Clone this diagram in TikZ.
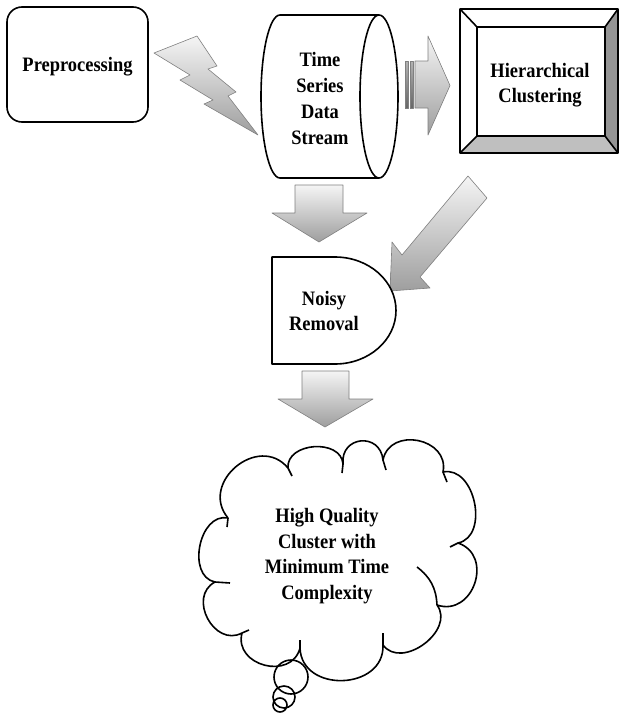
\documentclass[tikz,border=0pt]{standalone}
\usepackage{fontspec}
\setmainfont{Liberation Serif}[FakeStretch=0.9]
\begin{document}
\begin{tikzpicture}[x=1pt,y=-1pt,line join=round,
  box/.style={draw=black,line width=1.6pt,fill=white},
  txt/.style={font=\fontsize{20.5}{25.7}\selectfont\bfseries,align=center,inner sep=0pt},
  blk/.style={draw=black!50,line width=0.6pt,top color=black!4,bottom color=black!38},
  puff/.style={bend left=90,looseness=#1}]
\useasboundingbox (0,0) rectangle (619,715);
% Preprocessing
\draw[box,rounded corners=15pt] (7,7) rectangle (148,122);
\node[txt] (pre) at (77.5,67) {Preprocessing};
% lightning
\draw[blk] (154,53) -- (197,36) -- (217,66) -- (208,69) -- (236,92) -- (228,96) -- (258,135)
  -- (204,104) -- (213,100) -- (180,80) -- (190,75) -- cycle;
% cylinder
\draw[box] (280,15) -- (379,15) arc[start angle=-90,end angle=90,x radius=19,y radius=81.5]
  -- (280,178) arc[start angle=90,end angle=270,x radius=19,y radius=81.5] -- cycle;
\draw[line width=1.6pt] (379,15) arc[start angle=-90,end angle=-270,x radius=19,y radius=81.5];
\node[txt] (tss) at (320,98.5) {Time\\Series\\Data\\Stream};
% striped right arrow
\draw[blk,top color=black!30,bottom color=black!60] (405,61) rectangle (408,108);
\draw[blk,top color=black!30,bottom color=black!60] (410,61) rectangle (413,108);
\draw[blk] (415,61) -- (428,61) -- (428,36) -- (450,85.5) -- (428,135) -- (428,108) -- (415,108) -- cycle;
% Hierarchical clustering bevel
\fill[white] (460,9) -- (618,9) -- (605,27) -- (477,27) -- cycle;
\fill[white] (460,9) -- (477,27) -- (477,136) -- (460,153) -- cycle;
\fill[black!42] (618,9) -- (618,153) -- (605,136) -- (605,27) -- cycle;
\fill[black!25] (460,153) -- (618,153) -- (605,136) -- (477,136) -- cycle;
\fill[white] (477,27) rectangle (605,136);
\draw[line width=1.6pt] (460,9) rectangle (618,153) (477,27) rectangle (605,136)
  (460,9) -- (477,27) (618,9) -- (605,27) (618,153) -- (605,136) (460,153) -- (477,136);
\node[txt] (hc) at (540,85) {Hierarchical\\Clustering};
% down arrow 1
\draw[blk] (295,185) -- (343,185) -- (343,213) -- (367,213) -- (319,242) -- (272,213) -- (295,213) -- cycle;
% diagonal arrow
\draw[blk] (468,176) -- (487,198) -- (420,277) -- (430,288) -- (390,291) -- (392,242) -- (402,255) -- cycle;
% Noisy removal
\draw[box] (272,257) -- (335,257) arc[start angle=-90,end angle=90,x radius=61,y radius=53.5] -- (272,364) -- cycle;
\node[txt] (nr) at (324,311) {Noisy\\Removal};
% down arrow 2
\draw[blk] (302,371) -- (349,371) -- (349,399) -- (373,399) -- (325,427) -- (278,399) -- (302,399) -- cycle;
% cloud
\draw[box] (288,468) to[puff=1.2] (343,464) to[puff=1.8] (383,460) to[puff=1.45] (443,472)
  to[puff=1.15] (458,543) to[puff=1.5] (437,605) to[puff=1.2] (383,645) to[puff=1.4] (300,648)
  to[puff=1.45] (242,633) to[puff=1.4] (215,582) to[puff=1.15] (228,518) to[puff=1.5] cycle;
\draw[line width=1.6pt] (288,468) -- (292,476) (343,464) -- (342,473) (383,460) -- (386,470)
  (443,472) -- (447,482) (458,543) -- (450,547) (383,645) -- (383,633) (300,648) -- (300,640)
  (242,633) -- (249,630) (215,582) -- (230,583) (228,518) -- (227,527);
\draw[line width=1.6pt] (437,605) to[bend right=25] (417,567);
\node[txt] (hq) at (327,556) {High Quality\\Cluster with\\Minimum Time\\Complexity};
\draw[line width=1.6pt] (291,677) circle[radius=17] (284,697) circle[radius=11] (280,705) circle[radius=7];
\end{tikzpicture}
\end{document}
